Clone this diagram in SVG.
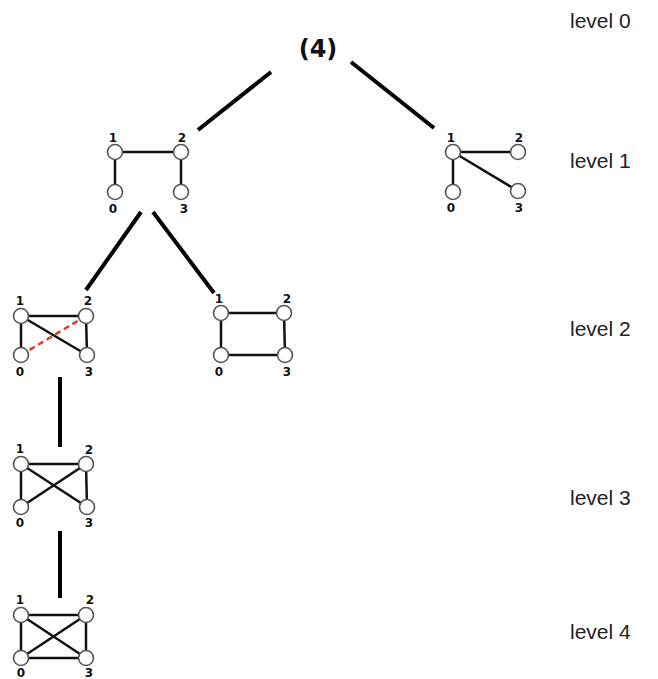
<svg xmlns="http://www.w3.org/2000/svg" width="658" height="679" viewBox="0 0 658 679">
<defs>
<style>
.tree{stroke:#000;stroke-width:4;stroke-linecap:butt}
.e{stroke:#111;stroke-width:2.5}
.red{stroke:#e03a2a;stroke-width:2.5;stroke-dasharray:6,4}
.n{fill:#fff;stroke:#555;stroke-width:1.6}
.lb{font-family:"DejaVu Sans","Liberation Sans",sans-serif;font-weight:bold;font-size:12px;fill:#111;text-anchor:middle}
.lv{font-family:"Liberation Sans",Arial,sans-serif;font-size:21px;fill:#222}
.root{font-family:"DejaVu Sans","Liberation Sans",sans-serif;font-weight:bold;font-size:24px;fill:#111;text-anchor:middle}
</style>
</defs>
<rect width="658" height="679" fill="#fff"/>
<g id="connectors">
<line class="tree" x1="198" y1="130" x2="271" y2="72"/>
<line class="tree" x1="351" y1="62" x2="434" y2="128"/>
<line class="tree" x1="141" y1="212" x2="86" y2="290"/>
<line class="tree" x1="153" y1="212" x2="214" y2="293"/>
<line class="tree" x1="60" y1="377" x2="60" y2="447"/>
<line class="tree" x1="60" y1="531" x2="60" y2="598"/>
</g>
<g id="root"><text class="root" x="318" y="57">(4)</text></g>
<g id="level-labels">
<text class="lv" x="570" y="28">level 0</text>
<text class="lv" x="570" y="168">level 1</text>
<text class="lv" x="570" y="336">level 2</text>
<text class="lv" x="570" y="505">level 3</text>
<text class="lv" x="570" y="639">level 4</text>
</g>
<g id="g1a">
<line class="e" x1="115" y1="152" x2="181" y2="152"/>
<line class="e" x1="115" y1="152" x2="115" y2="192"/>
<line class="e" x1="181" y1="152" x2="181" y2="192"/>
<circle class="n" cx="115" cy="152" r="7.5"/><circle class="n" cx="181" cy="152" r="7.5"/>
<circle class="n" cx="115" cy="192" r="7.5"/><circle class="n" cx="181" cy="192" r="7.5"/>
<text class="lb" x="113" y="142">1</text><text class="lb" x="182" y="142">2</text>
<text class="lb" x="113" y="213">0</text><text class="lb" x="184" y="213">3</text>
</g>
<g id="g1b">
<line class="e" x1="453" y1="152" x2="518" y2="152"/>
<line class="e" x1="453" y1="152" x2="453" y2="192"/>
<line class="e" x1="453" y1="152" x2="518" y2="191"/>
<circle class="n" cx="453" cy="152" r="7.5"/><circle class="n" cx="518" cy="152" r="7.5"/>
<circle class="n" cx="453" cy="192" r="7.5"/><circle class="n" cx="518" cy="191" r="7.5"/>
<text class="lb" x="451" y="142">1</text><text class="lb" x="519" y="142">2</text>
<text class="lb" x="451" y="212">0</text><text class="lb" x="519" y="212">3</text>
</g>
<g id="g2a">
<line class="e" x1="21" y1="316" x2="86" y2="316"/>
<line class="e" x1="21" y1="316" x2="21" y2="355"/>
<line class="e" x1="86" y1="316" x2="87" y2="355"/>
<line class="e" x1="21" y1="316" x2="87" y2="355"/>
<line class="red" x1="21" y1="355" x2="86" y2="316"/>
<circle class="n" cx="21" cy="316" r="7.5"/><circle class="n" cx="86" cy="316" r="7.5"/>
<circle class="n" cx="21" cy="355" r="7.5"/><circle class="n" cx="87" cy="355" r="7.5"/>
<text class="lb" x="20" y="305">1</text><text class="lb" x="88" y="305">2</text>
<text class="lb" x="20" y="376">0</text><text class="lb" x="89" y="376">3</text>
</g>
<g id="g2b">
<line class="e" x1="221" y1="313" x2="284" y2="313"/>
<line class="e" x1="221" y1="313" x2="221" y2="355"/>
<line class="e" x1="284" y1="313" x2="285" y2="355"/>
<line class="e" x1="221" y1="355" x2="285" y2="355"/>
<circle class="n" cx="221" cy="313" r="7.5"/><circle class="n" cx="284" cy="313" r="7.5"/>
<circle class="n" cx="221" cy="355" r="7.5"/><circle class="n" cx="285" cy="355" r="7.5"/>
<text class="lb" x="219" y="303">1</text><text class="lb" x="287" y="303">2</text>
<text class="lb" x="219" y="376">0</text><text class="lb" x="287" y="376">3</text>
</g>
<g id="g3">
<line class="e" x1="21" y1="464" x2="86" y2="464"/>
<line class="e" x1="21" y1="464" x2="21" y2="507"/>
<line class="e" x1="86" y1="464" x2="87" y2="507"/>
<line class="e" x1="21" y1="464" x2="87" y2="507"/>
<line class="e" x1="21" y1="507" x2="86" y2="464"/>
<circle class="n" cx="21" cy="464" r="7.5"/><circle class="n" cx="86" cy="464" r="7.5"/>
<circle class="n" cx="21" cy="507" r="7.5"/><circle class="n" cx="87" cy="507" r="7.5"/>
<text class="lb" x="20" y="453">1</text><text class="lb" x="89" y="454">2</text>
<text class="lb" x="20" y="527">0</text><text class="lb" x="89" y="527">3</text>
</g>
<g id="g4">
<line class="e" x1="21" y1="615" x2="86" y2="615"/>
<line class="e" x1="21" y1="615" x2="21" y2="658"/>
<line class="e" x1="86" y1="615" x2="86" y2="658"/>
<line class="e" x1="21" y1="615" x2="86" y2="658"/>
<line class="e" x1="21" y1="658" x2="86" y2="615"/>
<line class="e" x1="21" y1="658" x2="86" y2="658"/>
<circle class="n" cx="21" cy="615" r="7.5"/><circle class="n" cx="86" cy="615" r="7.5"/>
<circle class="n" cx="21" cy="658" r="7.5"/><circle class="n" cx="86" cy="658" r="7.5"/>
<text class="lb" x="20" y="604">1</text><text class="lb" x="90" y="604">2</text>
<text class="lb" x="21" y="677">0</text><text class="lb" x="89" y="677">3</text>
</g>
</svg>
